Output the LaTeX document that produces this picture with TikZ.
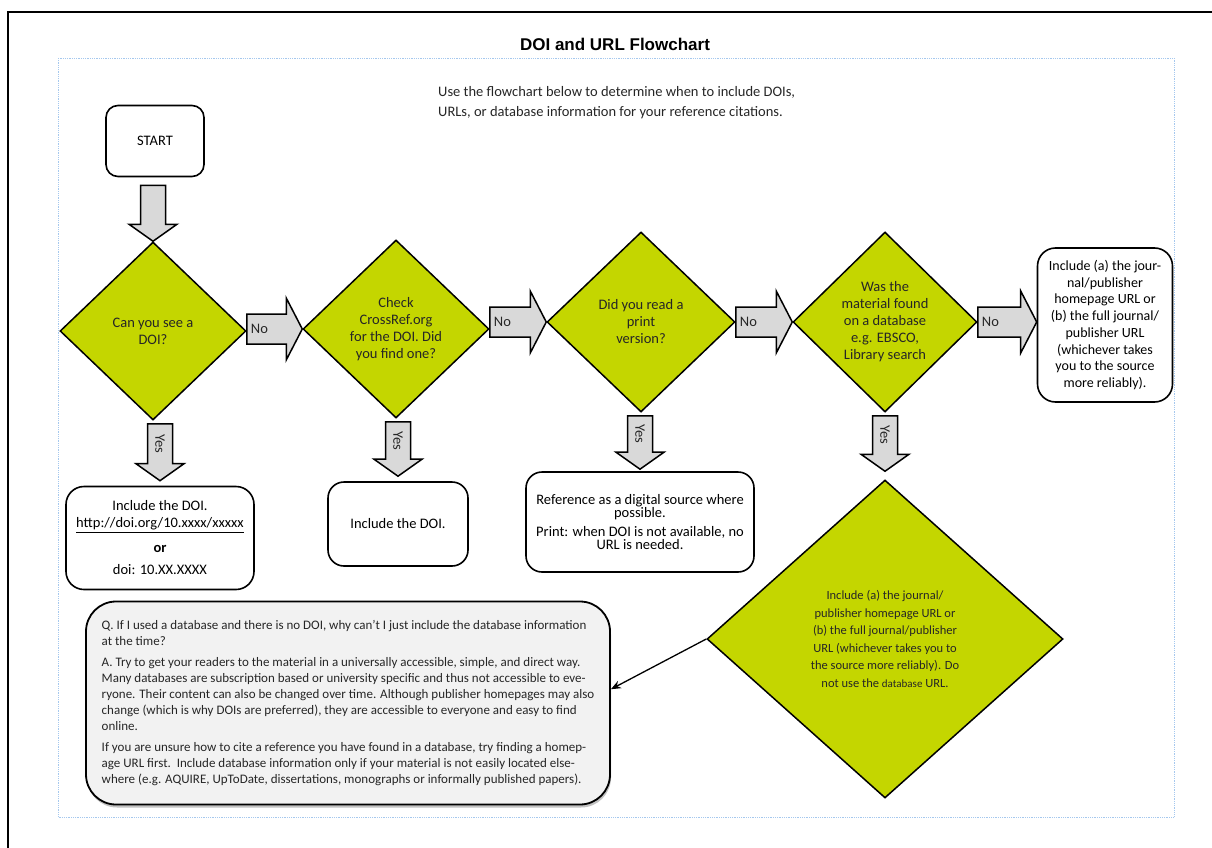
\documentclass[tikz,border=0pt]{standalone}
\usepackage{fontspec}
\setmainfont{Carlito}
\newfontfamily\titlefont{Liberation Sans}
\usepackage{tikz}
\usetikzlibrary{shapes.geometric, calc, shadows, arrows.meta, positioning}

\definecolor{doigreen}{RGB}{196,214,0}
\definecolor{arrowgray}{RGB}{217,217,217}
\definecolor{notegray}{RGB}{242,242,242}
\definecolor{pageblue}{RGB}{165,200,238}

% fat block arrows between two points
\newcommand{\fatright}[3]{%
  \draw[fatarrow] let \p1=(#1), \p2=(#2) in
    (\x1,{\y2+15pt}) -- ({\x2-16pt},{\y2+15pt}) -- ({\x2-16pt},{\y2+31pt})
    -- (\x2,\y2) -- ({\x2-16pt},{\y2-31pt}) -- ({\x2-16pt},{\y2-15pt})
    -- (\x1,{\y2-15pt}) -- cycle;
  \path let \p1=(#1), \p2=(#2) in
    node[armlabel, anchor=west] at ({\x1+4pt},\y2) {#3};
}
\newcommand{\fatdown}[3]{%
  \draw[fatarrow] let \p1=(#1), \p2=(#2) in
    ({\x2-12.5pt},\y1) -- ({\x2+12.5pt},\y1) -- ({\x2+12.5pt},{\y2+17pt})
    -- ({\x2+24pt},{\y2+17pt}) -- (\x2,\y2) -- ({\x2-24pt},{\y2+17pt})
    -- ({\x2-12.5pt},{\y2+17pt}) -- cycle;
  \path let \p1=(#1), \p2=(#2) in
    node[armlabel, rotate=-90] at (\x2,{0.5*\y1+0.5*\y2+8.5pt}) {#3};
}

\begin{document}
\begin{tikzpicture}[
    x=1pt, y=-1pt,
    decision/.style={diamond, draw=black, line width=1.5pt, fill=doigreen, text=black!85, align=center, inner sep=0pt, font=\fontsize{14.5}{17}\selectfont},
    outcome/.style={rectangle, rounded corners=16pt, draw=black, line width=1.6pt, fill=white, align=center, inner sep=0pt, font=\fontsize{14.5}{17}\selectfont},
    fatarrow/.style={draw=black, line width=1.5pt, fill=arrowgray, line join=miter},
    armlabel/.style={inner sep=0pt, text=black!85, font=\fontsize{14.5}{16}\selectfont},
    link/.style={draw=black, line width=1.3pt, -{Stealth[length=10pt, width=8pt]}}
]
    \useasboundingbox (0,0) rectangle (1212,848);

    % page frame
    \draw[line width=2pt] (8,848) -- (8,12) -- (1212,12);
    \draw[pageblue, densely dotted, line width=0.8pt] (58,58) rectangle (1174,817);

    \node[font=\titlefont\bfseries\fontsize{17}{20}\selectfont] (title) at (615,44) {DOI and URL Flowchart};
    \node[anchor=west, align=left, inner sep=0pt, text=black!85, font=\fontsize{14.5}{20}\selectfont] (intro) at (438,103)
        {Use the flowchart below to determine when to include DOIs,\\URLs, or database information for your reference citations.};

    \node[outcome, rounded corners=12pt, minimum width=98pt, minimum height=71pt] (start) at (155,141) {START};

    % decisions along the top row
    \node[decision, minimum width=186pt, minimum height=178pt] (seedoi) at (153,331) {Can you see a\\DOI?};
    \node[decision, minimum width=186pt, minimum height=178pt] (crossref) at (396,329) {Check\\CrossRef.org\\for the DOI. Did\\you find one?};
    \node[decision, minimum width=188pt, minimum height=180pt] (print) at (641,322) {Did you read a\\print\\version?};
    \node[decision, minimum width=184pt, minimum height=180pt] (database) at (885,322) {Was the\\material found\\on a database\\e.g. EBSCO,\\Library search};
    \node[outcome, rounded corners=18pt, minimum width=135pt, minimum height=154pt, font=\fontsize{14}{16.7}\selectfont] (homeurl) at (1105,325)
        {Include (a) the jour-\\nal/publisher\\homepage URL or\\(b) the full journal/\\publisher URL\\(whichever takes\\you to the source\\more reliably).};

    % outcomes below
    \node[outcome, rounded corners=18pt, minimum width=188pt, minimum height=103pt] (incdoi) at (160,538)
        {Include the DOI.\\\underline{http://doi.org/10.xxxx/xxxxx}\\[8pt]\textbf{or}\\[5pt]doi: 10.XX.XXXX};
    \node[outcome, minimum width=140pt, minimum height=84pt] (incdoitwo) at (398,524) {Include the DOI.};
    \node[outcome, minimum width=228pt, minimum height=100pt, font=\fontsize{14.5}{13.5}\selectfont] (digital) at (640,522)
        {Reference as a digital source where\\possible.\\[5pt]Print: when DOI is not available, no\\URL is needed.};
    \node[decision, minimum width=356pt, minimum height=318pt, font=\fontsize{12.5}{17.5}\selectfont] (journal) at (885,639)
        {Include (a) the journal/\\publisher homepage URL or\\(b) the full journal/publisher\\URL (whichever takes you to\\the source more reliably). Do\\not use the {\fontsize{11}{12}\selectfont database} URL.};

    \node[rectangle, rounded corners=30pt, draw=black, line width=1.8pt, fill=notegray, minimum width=524pt, minimum height=203pt, inner sep=0pt,
          drop shadow={shadow xshift=1pt, shadow yshift=-3pt, fill=black!40, opacity=0.6},
          align=left, text=black!85, font=\fontsize{13}{15.8}\selectfont] (question) at (348,703)
        {Q. If I used a database and there is no DOI, why can't I just include the database information\\
         at the time?\\[6pt]
         A. Try to get your readers to the material in a universally accessible, simple, and direct way.\\
         Many databases are subscription based or university specific and thus not accessible to eve-\\
         ryone. Their content can also be changed over time. Although publisher homepages may also\\
         change (which is why DOIs are preferred), they are accessible to everyone and easy to find\\
         online.\\[6pt]
         If you are unsure how to cite a reference you have found in a database, try finding a homep-\\
         age URL first.\ \ Include database information only if your material is not easily located else-\\
         where (e.g. AQUIRE, UpToDate, dissertations, monographs or informally published papers).};

    % connectors
    \fatdown{$(start.south)+(0,8)$}{seedoi.north}{}
    \fatright{seedoi.east}{crossref.west}{No}
    \fatright{crossref.east}{print.west}{No}
    \fatright{print.east}{database.west}{No}
    \fatright{database.east}{homeurl.west |- database.east}{No}
    \fatdown{$(seedoi.south)+(0,3)$}{$(incdoi.north)+(0,-5)$}{Yes}
    \fatdown{$(crossref.south)+(0,3)$}{$(incdoitwo.north)+(0,-5)$}{Yes}
    \fatdown{$(print.south)+(0,3)$}{$(digital.north)+(0,-2)$}{Yes}
    \fatdown{$(database.south)+(0,3)$}{$(journal.north)+(0,-8)$}{Yes}
    \draw[link] (journal.west) -- (question.3);
\end{tikzpicture}
\end{document}
